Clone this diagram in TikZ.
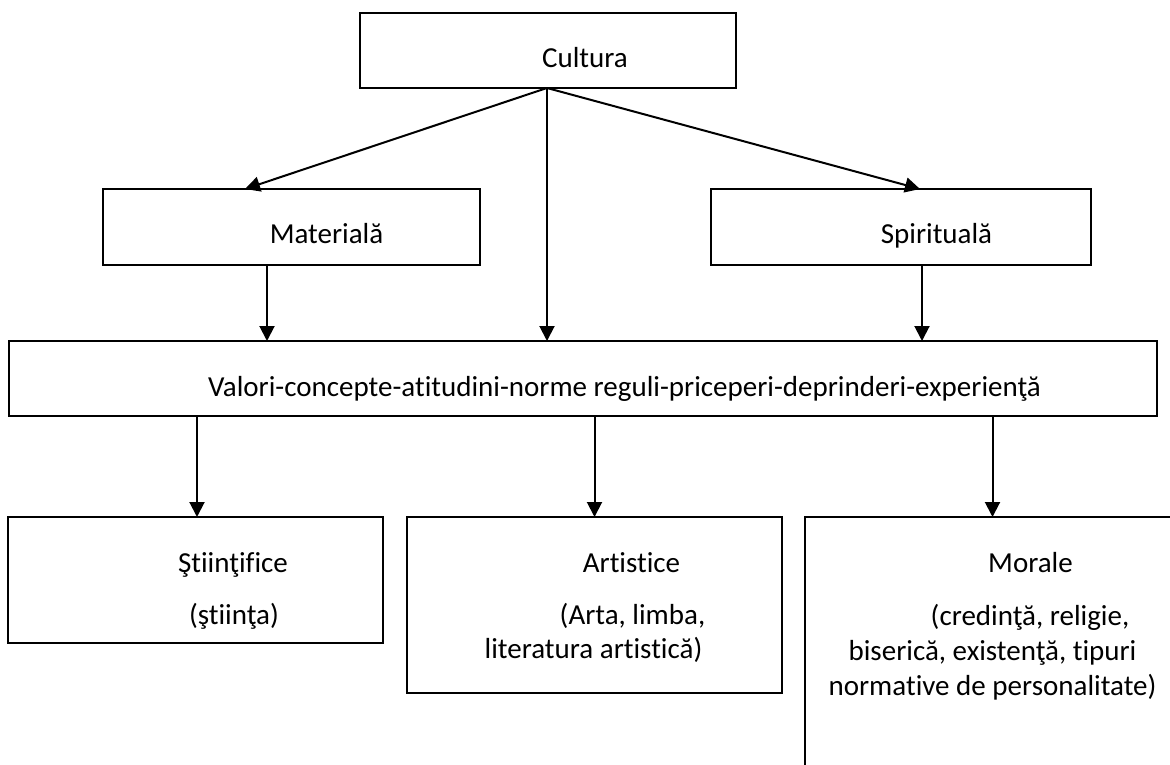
\documentclass[tikz,border=0pt]{standalone}
\usepackage{fontspec}
\setmainfont{Carlito}[Ligatures=NoCommon]
\usetikzlibrary{arrows.meta}
\begin{document}
\begin{tikzpicture}[x=1pt,y=-1pt,
  box/.style={draw=black, line width=1.5pt, inner sep=0pt, outer sep=0pt},
  txt/.style={font=\fontsize{29}{35}\selectfont, inner sep=0pt, anchor=base},
  arr/.style={line width=2pt, -{Triangle[length=15pt,width=15pt]}}]
\clip (0,0) rectangle (1170,765);
% boxes
\node[box, minimum width=376pt, minimum height=75pt] (cult) at (548,50.5) {};
\node[box, minimum width=377pt, minimum height=76pt] (mat) at (291.5,227) {};
\node[box, minimum width=380pt, minimum height=76pt] (spir) at (901,227) {};
\node[box, minimum width=1148pt, minimum height=75pt] (big) at (583,378.5) {};
\node[box, minimum width=375pt, minimum height=126pt] (sci) at (195.5,580) {};
\node[box, minimum width=375pt, minimum height=176pt] (art) at (594.5,605) {};
\node[box, minimum width=375pt, minimum height=300pt] (mor) at (992.5,667) {};
% texts
\node[txt] (cultT) at (585,68) {Cultura};
\node[txt] (matT) at (326.5,243) {Materială};
\node[txt] (spirT) at (936.5,243) {Spirituală};
\node[txt] (bigT) at (624.5,396) {Valori-concepte-atitudini-norme reguli-priceperi-deprinderi-experienţă};
\node[txt] (sciT1) at (233,572) {Ştiinţifice};
\node[txt] (sciT2) at (234,624) {(ştiinţa)};
\node[txt] (artT1) at (631.5,572) {Artistice};
\node[txt] (artT2) at (632.5,624) {(Arta, limba,};
\node[txt] (artT3) at (593.5,658) {literatura artistică)};
\node[txt] (morT1) at (1030.5,572) {Morale};
\node[txt] (morT2) at (1030,625) {(credinţă, religie,};
\node[txt] (morT3) at (992.5,660) {biserică, existenţă, tipuri};
\node[txt] (morT4) at (992.5,695) {normative de personalitate)};
% connectors
\draw[arr] ([xshift=-1pt]cult.south) -- ([xshift=-46.5pt]mat.north);
\draw[arr] ([xshift=-1pt]cult.south) -- ([xshift=19pt]spir.north);
\draw[arr] ([xshift=-1pt]cult.south) -- ([xshift=-1pt]cult.south |- big.north);
\draw[arr] ([xshift=-24.5pt]mat.south) -- ([xshift=-24.5pt]mat.south |- big.north);
\draw[arr] ([xshift=21pt]spir.south) -- ([xshift=21pt]spir.south |- big.north);
\draw[arr] ([xshift=1.5pt]sci.north |- big.south) -- ([xshift=1.5pt]sci.north);
\draw[arr] (art.north |- big.south) -- (art.north);
\draw[arr] (mor.north |- big.south) -- (mor.north);
\end{tikzpicture}
\end{document}
